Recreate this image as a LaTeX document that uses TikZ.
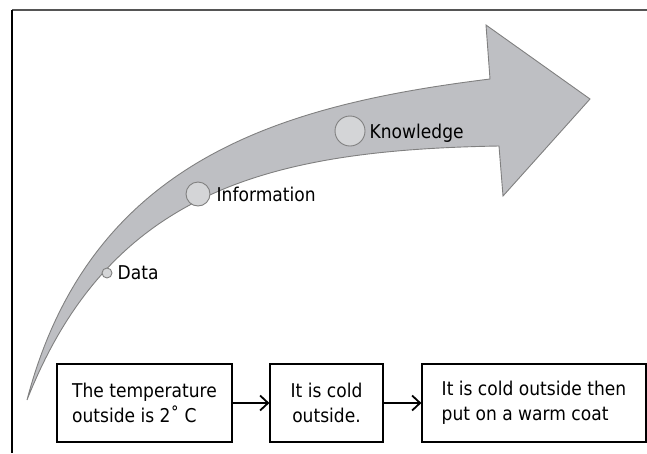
\documentclass[tikz,border=0pt]{standalone}
\usepackage{fontspec}
\setmainfont{DejaVu Sans}[FakeStretch=0.9]
\usetikzlibrary{arrows.meta}
\definecolor{arrowfill}{HTML}{BEBFC3}
\definecolor{edgegray}{HTML}{808080}
\definecolor{circfill}{HTML}{D4D5D7}
\definecolor{framegray}{HTML}{555555}
\begin{document}
\begin{tikzpicture}[x=1pt,y=-1pt,
  font=\fontsize{19}{25}\selectfont,
  bigarrow/.style={fill=arrowfill, draw=edgegray, line width=0.9pt, line join=miter},
  dot/.style={circle, fill=circfill, draw=edgegray, line width=0.9pt, inner sep=0pt},
  lbl/.style={anchor=west, inner sep=0pt, text depth=0pt},
  box/.style={draw=black, line width=1.2pt, inner sep=0pt, minimum height=78pt},
  flow/.style={line width=1.2pt, -{Straight Barb[length=8pt,width=15pt,line width=1.8pt]}}]
\useasboundingbox (0,0) rectangle (647,453);
% frame
\draw[framegray, line width=2pt] (12,10) -- (647,10);
\draw[black, line width=1.5pt] (12,10) -- (12,453);
% big curved arrow
\draw[bigarrow] (27,400) .. controls (90,160) and (280,105) .. (490,79)
  -- (486,25) -- (590,99) -- (503,196) -- (499,146)
  .. controls (270,150) and (110,190) .. (27,400) -- cycle;
% stages
\node[dot, minimum size=10pt] (cd) at (107,273) {};
\node[lbl] (td) at ([xshift=5pt]cd.east) {Data};
\node[dot, minimum size=24pt] (ci) at (198,194) {};
\node[lbl] (ti) at ([xshift=6pt]ci.east) {Information};
\node[dot, minimum size=30pt] (ck) at (350,131) {};
\node[lbl] (tk) at ([xshift=4pt]ck.east) {Knowledge};
% boxes
\node[box, minimum width=175pt, align=left] (b1) at (144.5,403) {The temperature\\outside is 2˚ C};
\node[box, minimum width=113pt, align=center] (b2) at (326.5,403) {It is cold\\outside.};
\node[box, minimum width=224pt, align=left] (b3) at (534,403) {It is cold outside then\\put on a warm coat};
\draw[flow] (b1.east) -- (b2.west);
\draw[flow] (b2.east) -- (b3.west);
\end{tikzpicture}
\end{document}
